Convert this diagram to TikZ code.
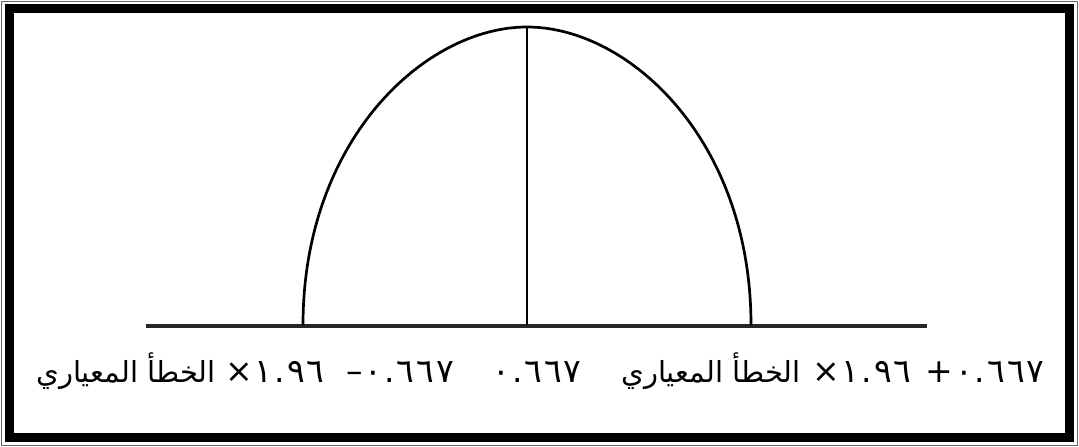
\documentclass[tikz,border=0pt]{standalone}
\usepackage{fontspec}
\newfontfamily\arabicfont[Script=Arabic]{DejaVu Sans}
\newfontfamily\numfont[LetterSpace=6]{DejaVu Sans}
\TeXXeTstate=1
\begin{document}
\begin{tikzpicture}[x=1pt,y=-1pt,
  lbl/.style={inner sep=0pt, anchor=base, font=\arabicfont\fontsize{29}{34}\selectfont},
  num/.style={inner sep=0pt, anchor=base, font=\numfont\fontsize{33}{38}\selectfont},
  curve/.style={line width=2.7pt},
  axis/.style={line width=3.6pt, black!85}]
\useasboundingbox (0,0) rectangle (1079,447);
% frame
\draw[line width=1pt, black!60] (1.5,1.5) rectangle (1077.5,445.5);
\draw[line width=9pt] (9.5,8.5) rectangle (1069.5,437.5);
% axis and curve
\coordinate (aL) at (146,326);
\coordinate (aR) at (927,326);
\coordinate (cL) at (303,325);
\coordinate (cR) at (751,325);
\coordinate (top) at (527,27);
\coordinate (mid) at (527,325);
\draw[axis] (aL) -- (aR);
\draw[curve] (cL) .. controls (303,140) and (425,27) .. (top)
  .. controls (629,27) and (751,140) .. (cR);
\draw[curve] (top) -- (mid);
% labels
\node[lbl] (a1) at (126,382) {\beginR الخطأ المعياري\endR};
\node[num] (x1) at (275,382) {×١.٩٦};
\node[num] (m) at (400,382) {–٠.٦٦٧};
\node[num] (c) at (537,382) {٠.٦٦٧};
\node[lbl] (a2) at (711,382) {\beginR الخطأ المعياري\endR};
\node[num] (x2) at (862,382) {×١.٩٦};
\node[num] (p) at (985,382) {+٠.٦٦٧};
\end{tikzpicture}
\end{document}
